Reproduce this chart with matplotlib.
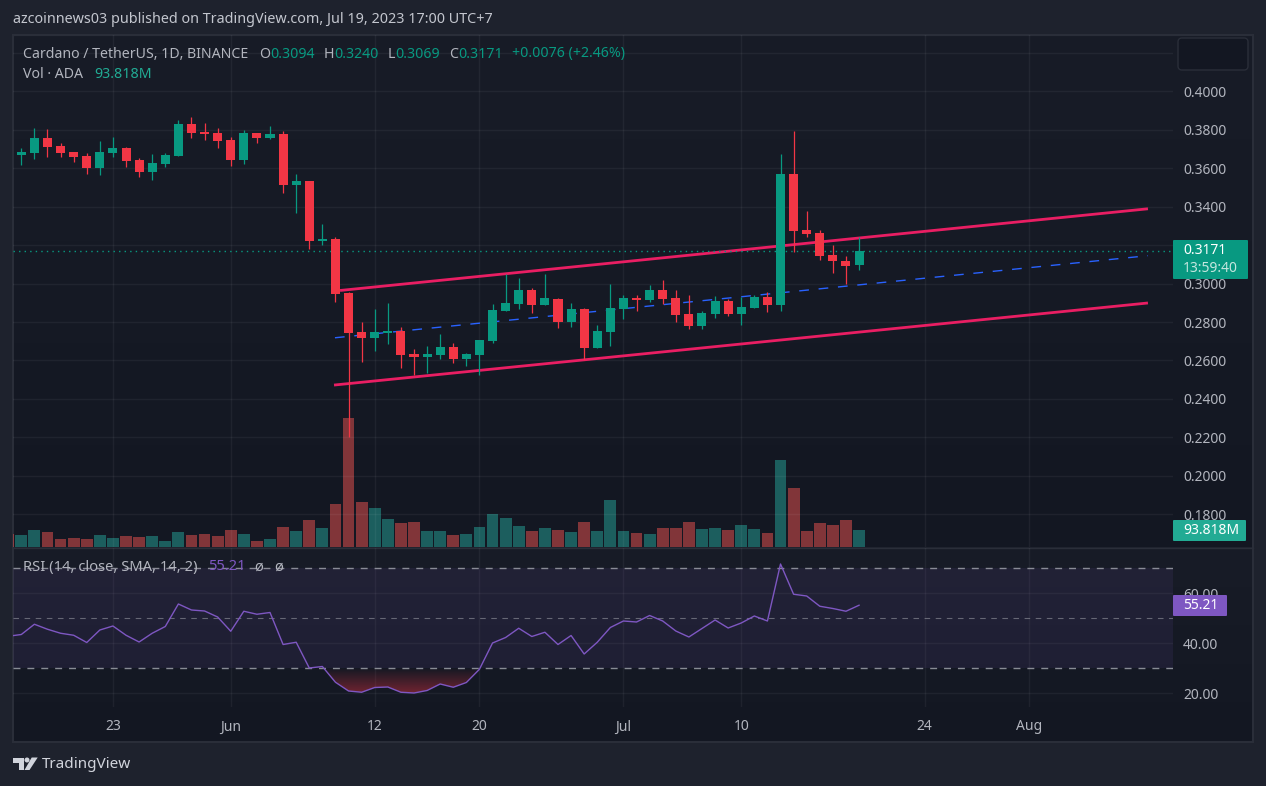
import numpy as np
import matplotlib
matplotlib.use("Agg")
import matplotlib.pyplot as plt
from matplotlib.colors import LinearSegmentedColormap
from matplotlib.patches import Rectangle, FancyBboxPatch, Polygon, Circle

W, H = 1266, 786
FONT = "Noto Sans"
plt.rcParams["font.family"] = [FONT, "DejaVu Sans"]

# Daily candles, May 16 to Jul 19 2023
tops = [.3684, .3757, .3757, .3715, .3684, .3663, .3684, .3705, .3705, .3643, .3627, .3669, .3830,
        .3830, .3788, .3783, .3747, .3783, .3783, .3778, .3778, .3533, .3533, .3232, .3232, .2951,
        .2748, .2748, .2753, .2753, .2634, .2634, .2670, .2670, .2634, .2706, .2862, .2899, .2966,
        .2966, .2925, .2920, .2868, .2868, .2753, .2873, .2925, .2925, .2966, .2966, .2925, .2842,
        .2847, .2909, .2909, .2878, .2930, .2930, .3570, .3570, .3278, .3263, .3148, .3117, .3171]
bottoms = [.3669, .3679, .3710, .3679, .3658, .3601, .3601, .3679, .3638, .3580, .3580, .3622, .3663,
           .3783, .3778, .3741, .3643, .3643, .3757, .3757, .3513, .3513, .3221, .3221, .2946, .2743,
           .2717, .2717, .2743, .2628, .2618, .2618, .2628, .2608, .2608, .2628, .2701, .2857, .2894,
           .2888, .2888, .2800, .2800, .2665, .2665, .2748, .2868, .2914, .2914, .2920, .2836, .2779,
           .2779, .2842, .2842, .2842, .2873, .2888, .2888, .3273, .3258, .3143, .3117, .3091, .3094]
highs = [.3705, .3809, .3804, .3731, .3684, .3679, .3741, .3762, .3710, .3653, .3674, .3679, .3851,
         .3866, .3835, .3809, .3762, .3799, .3783, .3820, .3794, .3570, .3533, .3310, .3242, .2956,
         .2800, .2868, .2899, .2774, .2660, .2675, .2738, .2691, .2639, .2706, .2894, .3050, .3029,
         .2977, .3050, .2925, .2899, .2873, .2784, .2998, .2940, .2940, .2992, .3018, .2966, .2940,
         .2857, .2935, .2920, .2930, .2940, .2956, .3674, .3794, .3377, .3278, .3201, .3143, .3240]
lows = [.3617, .3648, .3658, .3658, .3632, .3570, .3565, .3658, .3606, .3554, .3539, .3606, .3663,
        .3757, .3747, .3705, .3611, .3622, .3731, .3752, .3471, .3367, .3180, .3201, .2905, .2202,
        .2592, .2649, .2686, .2561, .2524, .2535, .2608, .2587, .2571, .2524, .2691, .2857, .2868,
        .2847, .2888, .2769, .2774, .2602, .2665, .2675, .2816, .2857, .2905, .2894, .2800, .2764,
        .2764, .2821, .2831, .2784, .2873, .2852, .2857, .3164, .3242, .3123, .3055, .2998, .3069]
up = [1, 1, 0, 0, 0, 0, 1, 1, 0, 0, 1, 1, 1,
      0, 0, 0, 0, 1, 0, 1, 0, 1, 0, 1, 0, 0,
      0, 1, 1, 0, 0, 1, 1, 0, 1, 1, 1, 1, 1,
      0, 1, 0, 1, 0, 1, 1, 1, 0, 1, 0, 0, 0,
      1, 1, 0, 1, 1, 0, 1, 0, 0, 0, 0, 0, 1]

# volume in millions, first entry is the day before the first candle
volumes = [73, 68, 95.5, 84.5, 46, 51, 46, 68, 51, 62, 57, 62, 35, 84.5,
           68, 73, 62, 95.5, 73, 35, 46, 112, 90, 151, 107, 239, 712, 250,
           217, 156, 134, 140, 90, 90, 66, 72, 110, 182, 160, 116, 88, 105,
           94, 83, 138, 88, 259, 88, 77, 72, 105, 105, 138, 99, 105, 94,
           121, 99, 77, 480, 326, 88, 132, 121, 149, 93.818]
vol_up = [0] + up

# RSI, first entry is the day before the first candle
rsi = [42.8, 43.5, 47.6, 45.6, 44.0, 43.2, 40.3, 45.3, 46.9, 43.2, 40.5, 44.0, 46.7, 55.7,
       53.3, 52.9, 50.5, 44.8, 52.8, 51.6, 52.3, 39.5, 40.4, 30.1, 30.7, 24.4, 20.9, 20.4,
       22.3, 22.5, 20.4, 20.1, 21.1, 23.7, 22.4, 24.3, 29.6, 40.1, 42.3, 46.0, 42.7, 44.4,
       39.5, 43.1, 35.7, 40.4, 46.3, 48.9, 48.5, 51.1, 48.9, 44.9, 42.5, 45.9, 49.3, 46.1,
       48.1, 50.9, 48.9, 71.7, 59.6, 58.9, 54.8, 53.9, 52.8, 55.21]

# channel drawn on the chart: (day, price) ends
upper_days, upper_prices = [24.35, 86.07], [.2964, .3389]
lower_days, lower_prices = [23.89, 86.07], [.2472, .2899]
mid_days, mid_prices = [23.96, 86.07], [.2718, .3145]

price_ticks = [.18, .20, .22, .24, .26, .28, .30, .32, .34, .36, .38, .40, .42]
rsi_ticks = [20, 40, 60]
tick_days = [7, 16, 27, 35, 46, 55, 69, 77]
tick_labels = ["23", "Jun", "12", "20", "Jul", "10", "24", "Aug"]
last_price = 0.3171

BG = "#1e222d"
BORDER = "#2a2e39"
TEXT = "#b2b5be"
GREEN = "#089981"
RED = "#f23645"
VOL_GREEN = "#26a69a"
VOL_RED = "#ef5350"
PURPLE = "#7e57c2"


def pane(x0, y0, x1, y1, **kw):
    return fig.add_axes([x0 / W, 1 - y1 / H, (x1 - x0) / W, (y1 - y0) / H], **kw)


def day_lim():
    return (13 - 21.3) / 13.09, (1173 - 21.3) / 13.09


fig = plt.figure(figsize=(W / 100, H / 100), dpi=100, facecolor=BG)

# background panes, pixel coordinates
bg = pane(0, 0, W, H, zorder=0)
bg.axis("off")
grad = LinearSegmentedColormap.from_list("pane", ["#181c27", "#131722"])
ramp = np.linspace(0, 1, 256).reshape(-1, 1)
bg.imshow(ramp, cmap=grad, aspect="auto", extent=(13, 1253, 547, 35))
bg.imshow(ramp, cmap=grad, aspect="auto", extent=(13, 1253, 741, 548))
bg.set_xlim(0, W)
bg.set_ylim(H, 0)
bg.add_patch(Rectangle((12.5, 34.5), 1240, 707, fill=False, ec=BORDER, lw=1.5))
bg.plot([13, 1253], [547.5, 547.5], color=BORDER, lw=1)

all_days = np.arange(len(tops))

# volume sits below the candles on its own scale
ax_vol = pane(13, 35, 1173, 547, zorder=1)
ax_vol.axis("off")
vol_days = np.arange(-1, len(volumes) - 1)
ax_vol.bar(vol_days, volumes, width=0.9, alpha=0.5,
           color=[VOL_GREEN if u else VOL_RED for u in vol_up])
ax_vol.set_xlim(*day_lim())
ax_vol.set_ylim(0, 2826)

# candles
ax = pane(13, 35, 1173, 547, zorder=2)
ax.patch.set_visible(False)
colors = [GREEN if u else RED for u in up]
ax.plot(upper_days, upper_prices, color="#e91e63", lw=2, zorder=2, solid_capstyle="butt")
ax.plot(lower_days, lower_prices, color="#e91e63", lw=2, zorder=2, solid_capstyle="butt")
ax.plot(mid_days, mid_prices, color="#2962ff", lw=1, zorder=2, dashes=(7, 7))
ax.axhline(last_price, color=GREEN, lw=1, ls=(0, (1, 3)), zorder=2)
ax.vlines(all_days, lows, highs, colors=colors, lw=0.9, zorder=3)
ax.bar(all_days, np.array(tops) - np.array(bottoms), bottom=bottoms, width=0.69, color=colors, zorder=4)
ax.set_xlim(*day_lim())
ax.set_ylim(.16296, .4293)
ax.set_yticks(price_ticks)
ax.set_yticklabels([f"{p:.4f}" for p in price_ticks])
ax.set_xticks(tick_days)
ax.yaxis.tick_right()
ax.tick_params(axis="y", length=0, pad=7.2, colors=TEXT, labelsize=10)
ax.tick_params(axis="x", length=0, labelbottom=False)
ax.grid(True, color="white", alpha=0.05, lw=1)
ax.set_axisbelow(True)
for s in ax.spines.values():
    s.set_visible(False)

# RSI
ax_rsi = pane(13, 548, 1173, 707, zorder=2)
ax_rsi.patch.set_visible(False)
rsi_days = np.arange(-1, len(rsi) - 1)
ax_rsi.axhspan(30, 70, color=PURPLE, alpha=0.1, lw=0)
for lvl, a, lw in [(70, 0.9, 1), (50, 0.6, 0.8), (30, 0.9, 1)]:
    ax_rsi.axhline(lvl, color="#9598a1", alpha=a, lw=lw, dashes=(5, 5))
region = ax_rsi.fill_between(rsi_days, rsi, 30, where=np.array(rsi) < 30, interpolate=True, facecolor="none", lw=0)
red_fade = LinearSegmentedColormap.from_list("fade", [(0.95, 0.21, 0.27, 0.0), (0.95, 0.21, 0.27, 0.42)])
im = ax_rsi.imshow(ramp, cmap=red_fade, aspect="auto", extent=(-1, 65, 20, 30), zorder=1)
im.set_clip_path(region.get_paths()[0], transform=ax_rsi.transData)
ax_rsi.plot(rsi_days, rsi, color=PURPLE, lw=1, zorder=3)
ax_rsi.set_xlim(*day_lim())
ax_rsi.set_ylim(14.5, 78.1)
ax_rsi.set_yticks(rsi_ticks)
ax_rsi.set_yticklabels([f"{v:.2f}" for v in rsi_ticks])
ax_rsi.set_xticks(tick_days)
ax_rsi.yaxis.tick_right()
ax_rsi.tick_params(axis="y", length=0, pad=7.2, colors=TEXT, labelsize=10)
ax_rsi.tick_params(axis="x", length=0, labelbottom=False)
ax_rsi.grid(True, color="white", alpha=0.05, lw=1)
ax_rsi.set_axisbelow(True)
for s in ax_rsi.spines.values():
    s.set_visible(False)

# overlay for labels and boxes, pixel coordinates
top = pane(0, 0, W, H, zorder=5)
top.axis("off")
top.set_xlim(0, W)
top.set_ylim(H, 0)


def label(x, y, s, color=TEXT, size=10, **kw):
    top.text(x, y, s, color=color, fontsize=size, va="center", ha=kw.pop("ha", "left"), **kw)


def box(x0, y0, x1, y1, color, ec="none", r=1):
    top.add_patch(FancyBboxPatch((x0 + r, y0 + r), x1 - x0 - 2 * r, y1 - y0 - 2 * r,
                                 boxstyle=f"round,pad={r},rounding_size={r}", fc=color, ec=ec, lw=1))


label(13, 19.5, "azcoinnews03 published on TradingView.com, Jul 19, 2023 17:00 UTC+7", "#c3c6ce", 10.35)
label(23, 54, "Cardano / TetherUS, 1D, BINANCE", size=10.2)
for x, s, c in [(259, "O", TEXT), (270, "0.3094", GREEN), (324, "H", TEXT), (334, "0.3240", GREEN),
                (388, "L", TEXT), (395, "0.3069", GREEN), (449, "C", TEXT), (458, "0.3171", GREEN),
                (512.5, "+0.0076 (+2.46%)", GREEN)]:
    label(x, 54, s, c, 10.2)
label(23, 75, "Vol · ADA", size=10.2)
label(94, 75, "93.818M", "#22ab94", 10.2)

label(23, 567, "RSI (14, close, SMA, 14, 2)", size=10.6)
label(208, 567, "55.21", PURPLE, 10.6)
label(254, 567, "ø", size=10.6)
label(274, 567, "ø", size=10.6)

for d, s in zip(tick_days, tick_labels):
    label(21.3 + 13.09 * d, 727, s, ha="center")

box(1178, 38, 1248, 70, "#131722", ec=BORDER, r=4)
box(1173, 240, 1248, 279, GREEN)
label(1183, 251, "0.3171", "#ffffff", 10, fontweight="bold")
label(1183, 268, "13:59:40", "#c4e6df", 10)
box(1173, 520, 1246, 541, "#22ab94")
label(1183, 530.5, "93.818M", "#ffffff", 10)
box(1173, 595, 1227, 616, PURPLE)
label(1183, 605.5, "55.21", "#ffffff", 10)

# TradingView mark
top.add_patch(Polygon([(13, 757.5), (24, 757.5), (24, 770), (18.5, 770), (18.5, 763), (13, 763)], fc="#d1d4dc", lw=0))
top.add_patch(Circle((27, 760), 2.5, fc="#d1d4dc", lw=0))
top.add_patch(Polygon([(31.7, 757.5), (37.7, 757.5), (29.5, 770), (24.5, 770)], fc="#d1d4dc", lw=0))
label(42, 764.5, "TradingView", "#d1d4dc", 11, fontweight="medium")

fig.savefig("out.png", dpi=100, facecolor=BG)
